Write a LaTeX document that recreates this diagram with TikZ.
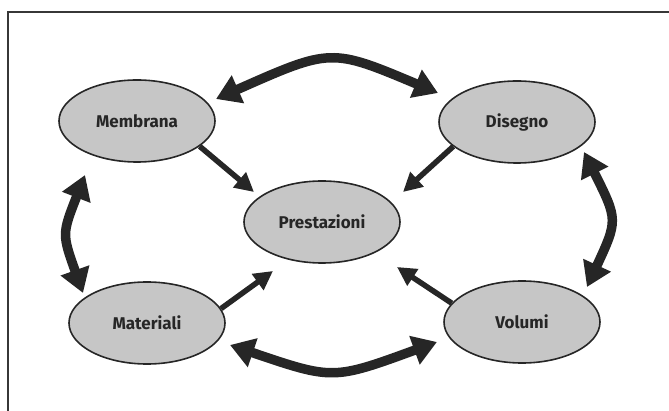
\documentclass[tikz,border=0pt]{standalone}
\usepackage{fontspec}
\setmainfont{Fira Sans}
\usetikzlibrary{shapes.geometric,arrows.meta}
\definecolor{inkdark}{RGB}{38,38,38}
\definecolor{bubblefill}{RGB}{198,198,198}
\definecolor{framegray}{RGB}{55,55,55}
\tikzset{
  bubble/.style={ellipse, draw=inkdark, line width=1.6pt, fill=bubblefill,
    minimum width=156pt, minimum height=82pt, inner sep=0pt,
    font=\fontsize{17}{20}\selectfont\bfseries, text=inkdark},
  bigarrow/.style={draw=inkdark, line width=9.5pt,
    {Triangle[length=24pt,width=29pt]}-{Triangle[length=24pt,width=29pt]}},
  feedarrow/.style={draw=inkdark, line width=5.5pt,
    -{Triangle[length=19pt,width=19pt]}},
  frameline/.style={draw=framegray, line width=2pt}
}
\begin{document}
\begin{tikzpicture}[x=1pt,y=-1pt]
\useasboundingbox (0,0) rectangle (669,411);
% open frame: left side and top
\coordinate (fbl) at (8,411);
\coordinate (ftl) at (8,12);
\coordinate (ftr) at (669,12);
\draw[frameline] (fbl) -- (ftl) -- (ftr);

% the five bubbles
\node[bubble] (memb) at (137,121) {Membrana};
\node[bubble] (dise) at (517,122) {Disegno};
\node[bubble] (prest) at (322,222) {Prestazioni};
\node[bubble] (mate) at (147,323) {Materiali};
\node[bubble] (volu) at (522,322) {Volumi};

% end points of the curved two-way arrows
\coordinate (tl) at (216,99);
\coordinate (tr) at (438,93);
\coordinate (bl) at (230,345);
\coordinate (br) at (437,342);
\coordinate (lt) at (85,175);
\coordinate (lb) at (83,293);
\coordinate (rt) at (584,152);
\coordinate (rb) at (587,287);

% curved two-way arrows between neighbouring bubbles
\draw[bigarrow] (tl) .. controls (331,48) .. (tr);
\draw[bigarrow] (bl) .. controls (333,380) .. (br);
\draw[bigarrow] (lt) .. controls (62,234) .. (lb);
\draw[bigarrow] (rt) .. controls (618,220) .. (rb);

% straight arrows into the centre
\coordinate (pmt) at (254,192);
\coordinate (pdt) at (403,192);
\coordinate (pmb) at (273,271);
\coordinate (pvb) at (397,267);
\draw[feedarrow] (memb.-22) -- (pmt);
\draw[feedarrow] (dise.-159) -- (pdt);
\draw[feedarrow] (mate.11) -- (pmb);
\draw[feedarrow] (volu.165) -- (pvb);
\end{tikzpicture}
\end{document}
